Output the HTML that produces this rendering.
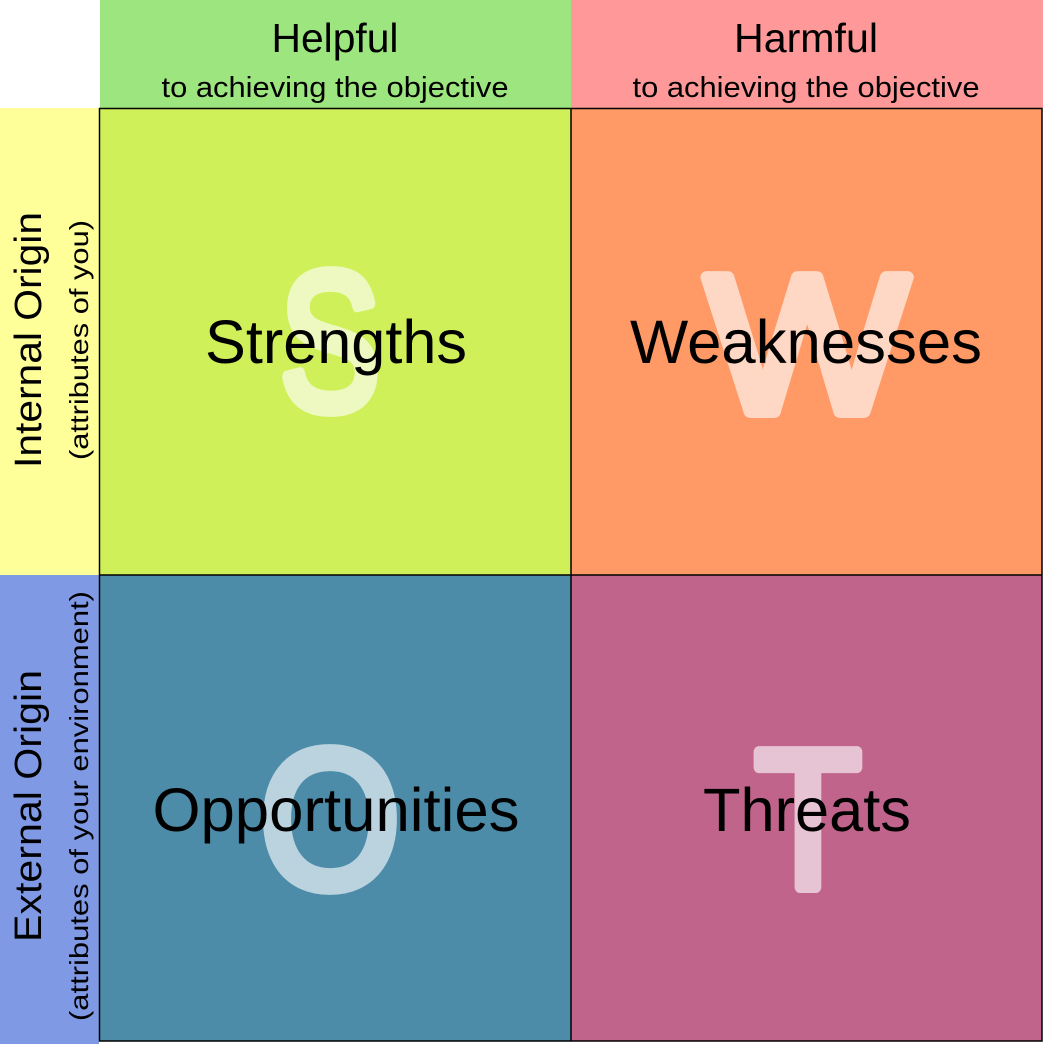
<!DOCTYPE html>
<html><head><meta charset="utf-8"><style>html,body{margin:0;padding:0;background:#fff}svg{display:block}</style></head>
<body>
<svg width="1043" height="1044" viewBox="0 0 1043 1044" xmlns="http://www.w3.org/2000/svg" style="font-family:'Liberation Sans',Arial,sans-serif">
<rect x="0" y="0" width="1043" height="1044" fill="#fff"/>
<rect x="100" y="0" width="471" height="108" fill="#9de57f"/>
<rect x="571" y="0" width="472" height="108" fill="#ff9999"/>
<rect x="0" y="108" width="99" height="467" fill="#ffff99"/>
<rect x="0" y="575" width="99" height="469" fill="#7f99e5"/>
<rect x="99" y="108" width="472" height="467" fill="#d0f05a"/>
<rect x="571" y="108" width="471" height="467" fill="#ff9966"/>
<rect x="99" y="575" width="472" height="466" fill="#4c8ca8"/>
<rect x="571" y="575" width="471" height="466" fill="#c0648c"/>
<g opacity="0.62" fill="#fff" stroke="#fff" stroke-width="12" stroke-linejoin="round" text-anchor="middle" font-size="196">
<text x="330" y="409" textLength="100" lengthAdjust="spacingAndGlyphs">S</text>
<text x="807" y="412" textLength="202" lengthAdjust="spacingAndGlyphs">W</text>
<text x="330" y="887" textLength="140" lengthAdjust="spacingAndGlyphs">O</text>
<text x="808" y="887" textLength="106" lengthAdjust="spacingAndGlyphs">T</text>
</g>
<g stroke="#000" stroke-width="1.5" fill="none">
<rect x="99.5" y="108.5" width="942.5" height="932.5"/>
<line x1="571" y1="108" x2="571" y2="1041"/>
<line x1="99" y1="575" x2="1042" y2="575"/>
</g>
<g fill="#000" text-anchor="middle">
<text x="335" y="52" font-size="41" textLength="127" lengthAdjust="spacingAndGlyphs">Helpful</text>
<text x="335" y="97" font-size="29" textLength="347" lengthAdjust="spacingAndGlyphs">to achieving the objective</text>
<text x="806" y="52" font-size="41" textLength="144" lengthAdjust="spacingAndGlyphs">Harmful</text>
<text x="806" y="97" font-size="29" textLength="347" lengthAdjust="spacingAndGlyphs">to achieving the objective</text>
<text x="336" y="363" font-size="61" textLength="262" lengthAdjust="spacingAndGlyphs">Strengths</text>
<text x="806" y="363" font-size="61" textLength="352" lengthAdjust="spacingAndGlyphs">Weaknesses</text>
<text x="336" y="831" font-size="61" textLength="367" lengthAdjust="spacingAndGlyphs">Opportunities</text>
<text x="807" y="831" font-size="61" textLength="208" lengthAdjust="spacingAndGlyphs">Threats</text>
<text transform="translate(41,340) rotate(-90)" font-size="38" textLength="256" lengthAdjust="spacingAndGlyphs">Internal Origin</text>
<text transform="translate(88,340) rotate(-90)" font-size="26" textLength="240" lengthAdjust="spacingAndGlyphs">(attributes of you)</text>
<text transform="translate(41,806) rotate(-90)" font-size="38" textLength="272" lengthAdjust="spacingAndGlyphs">External Origin</text>
<text transform="translate(88,806) rotate(-90)" font-size="26" textLength="430" lengthAdjust="spacingAndGlyphs">(attributes of your environment)</text>
</g>
</svg>
</body></html>
